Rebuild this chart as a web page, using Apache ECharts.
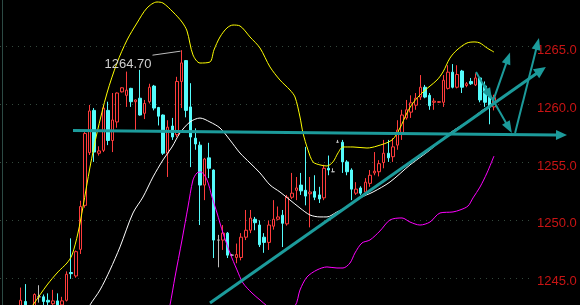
<!DOCTYPE html>
<html>
<head>
<meta charset="utf-8">
<script src="https://cdn.jsdelivr.net/npm/echarts@6/dist/echarts.min.js"></script>
<style>
  html, body { margin: 0; padding: 0; background: #000; }
  #chart { width: 580px; height: 305px; }
</style>
</head>
<body>
<div id="chart"></div>
<script>
// slot layout: 4 empty slots before the first candle, some room on the right
const SLOTS = 116;
const LEAD = 4;

const candleOpen = [
  1242.5, 1243.0, 1242.4, 1242.6, 1243.4, 1243.4, 1243.1, 1242.8, 1243.05, 1242.7,
  1243.1, 1245.5, 1245.2, 1247.5, 1251.3, 1255.85, 1259.5, 1255.8, 1256.05, 1259.5,
  1256.9, 1258.5, 1261.1, 1260.8, 1261.4, 1260.25, 1260.55, 1259.25, 1260.25, 1261.6,
  1259.75, 1259.1, 1255.8, 1258.15, 1257.4, 1262.0, 1263.8, 1259.8, 1257.1, 1256.5,
  1253.05, 1255.4, 1254.35, 1248.3, 1248.3, 1248.9, 1247.0, 1246.8, 1246.8, 1248.55,
  1249.15, 1250.1, 1249.6, 1248.55, 1248.1, 1249.5, 1250.1, 1250.45, 1249.7, 1252.0,
  1252.6, 1253.05, 1252.6, 1252.3, 1252.5, 1252.2, 1251.95, 1254.5, 1254.2, 1256.75,
  1256.75, 1255.05, 1254.35, 1252.35, 1252.8, 1252.45, 1253.2, 1254.1, 1254.2, 1255.0,
  1255.8, 1255.5, 1256.5, 1257.6, 1258.85, 1259.35, 1259.95, 1260.65, 1261.5, 1260.8,
  1260.2, 1260.2, 1260.2, 1261.4, 1262.8, 1261.5, 1262.9, 1261.65, 1262.0, 1261.7,
  1262.3, 1261.6, 1260.7, 1259.8
];
const candleClose = [
  1243.1, 1242.5, 1242.2, 1243.6, 1243.4, 1243.0, 1242.95, 1243.05, 1242.7, 1243.05,
  1245.35, 1245.4, 1247.3, 1251.2, 1257.5, 1259.45, 1255.9, 1256.0, 1259.7, 1256.9,
  1258.67, 1261.0, 1261.45, 1261.25, 1260.25, 1260.4, 1259.1, 1260.1, 1261.5, 1259.7,
  1259.0, 1255.8, 1258.05, 1257.2, 1262.0, 1263.6, 1259.5, 1257.2, 1256.6, 1253.05,
  1255.3, 1254.5, 1248.3, 1248.3, 1248.9, 1247.0, 1247.0, 1247.05, 1248.55, 1249.15,
  1250.2, 1249.8, 1247.9, 1248.1, 1249.6, 1250.1, 1250.3, 1249.75, 1252.0, 1252.35,
  1252.8, 1252.55, 1252.1, 1252.45, 1252.0, 1251.85, 1254.5, 1254.35, 1254.2, 1256.75,
  1255.05, 1254.2, 1252.7, 1252.7, 1252.35, 1253.3, 1253.9, 1254.25, 1254.9, 1255.8,
  1255.4, 1256.35, 1257.8, 1259.1, 1259.55, 1260.15, 1260.55, 1261.5, 1260.65, 1259.9,
  1260.3, 1260.25, 1262.1, 1262.8, 1261.5, 1262.6, 1261.5, 1261.8, 1261.8, 1262.3,
  1260.4, 1260.2, 1259.8, 1260.6
];
const candleLow = [
  1242.3, 1242.3, 1241.9, 1242.4, 1242.9, 1242.6, 1242.6, 1242.6, 1242.5, 1242.5,
  1243.0, 1244.95, 1245.05, 1247.1, 1251.1, 1255.65, 1255.05, 1255.6, 1255.9, 1256.5,
  1255.9, 1258.0, 1261.05, 1259.8, 1259.8, 1257.8, 1259.05, 1258.75, 1260.1, 1259.5,
  1258.2, 1255.65, 1253.75, 1256.95, 1257.2, 1259.7, 1258.9, 1254.6, 1256.1, 1249.6,
  1251.75, 1253.65, 1246.75, 1245.95, 1247.45, 1246.75, 1246.9, 1246.3, 1246.55, 1248.3,
  1248.9, 1249.15, 1247.7, 1247.2, 1247.45, 1249.2, 1250.0, 1247.7, 1249.55, 1251.85,
  1251.75, 1252.2, 1251.3, 1249.4, 1251.75, 1251.5, 1251.75, 1253.9, 1254.2, 1256.75,
  1254.1, 1253.9, 1251.75, 1252.2, 1252.2, 1252.25, 1252.9, 1253.9, 1253.8, 1254.5,
  1255.05, 1255.05, 1256.1, 1256.95, 1258.7, 1258.85, 1259.55, 1260.4, 1260.55, 1259.55,
  1259.55, 1260.15, 1259.8, 1261.3, 1261.4, 1261.4, 1261.0, 1261.5, 1261.7, 1261.6,
  1260.2, 1259.8, 1258.3, 1259.5
];
const candleHigh = [
  1244.2, 1244.5, 1242.6, 1243.7, 1244.4, 1243.6, 1243.7, 1244.0, 1243.7, 1243.4,
  1245.6, 1248.45, 1247.4, 1251.7, 1257.7, 1259.97, 1259.7, 1256.4, 1259.97, 1260.25,
  1261.0, 1261.05, 1261.5, 1262.85, 1261.45, 1260.45, 1263.0, 1260.4, 1261.8, 1261.7,
  1259.8, 1259.15, 1258.65, 1258.85, 1262.4, 1264.7, 1263.85, 1261.85, 1257.95, 1256.8,
  1255.4, 1256.7, 1254.4, 1248.75, 1249.6, 1249.0, 1247.1, 1248.0, 1248.9, 1250.9,
  1250.9, 1250.3, 1250.0, 1248.9, 1250.0, 1251.75, 1251.2, 1250.9, 1252.2, 1254.1,
  1253.75, 1254.1, 1256.35, 1253.75, 1253.9, 1252.9, 1254.8, 1255.6, 1254.5, 1256.95,
  1256.95, 1255.2, 1254.5, 1253.3, 1252.95, 1253.65, 1254.35, 1255.9, 1255.2, 1256.95,
  1256.95, 1257.1, 1258.65, 1259.55, 1260.4, 1260.8, 1261.0, 1262.55, 1261.7, 1261.0,
  1260.55, 1260.3, 1262.55, 1263.4, 1263.5, 1263.4, 1263.0, 1261.95, 1262.3, 1262.7,
  1262.35, 1262.0, 1261.0, 1260.85
];

// band lines: [slot, price]
const upperBand = [
  [5.6, 1242.1], [6.68, 1242.7], [9.73, 1244.42], [12.12, 1245.55], [14.08, 1246.32], [15.17, 1247.01],
  [16.47, 1248.91], [17.56, 1251.16], [19.09, 1254.61], [20.61, 1257.55], [22.79, 1261.0],
  [24.96, 1263.59], [27.14, 1265.57], [29.32, 1267.05], [31.49, 1268.34], [33.67, 1268.86],
  [34.97, 1268.77], [37.15, 1268.0], [39.11, 1267.13], [40.2, 1266.36], [41.5, 1264.29],
  [43.03, 1263.59], [45.2, 1263.68], [46.07, 1264.72], [47.38, 1265.84], [48.9, 1266.62],
  [50.21, 1266.87], [51.73, 1266.79], [53.91, 1265.84], [56.08, 1264.89], [58.26, 1263.25],
  [60.44, 1262.12], [62.61, 1261.26], [63.7, 1260.66], [64.79, 1258.93], [65.44, 1257.55],
  [66.53, 1256.08], [67.62, 1255.05], [69.14, 1254.79], [70.66, 1254.7], [71.97, 1255.05],
  [73.06, 1255.82], [74.15, 1256.34], [76.32, 1256.34], [79.37, 1256.25], [81.55, 1256.42],
  [84.81, 1256.94], [86.55, 1257.98], [88.07, 1259.28], [89.38, 1260.14], [91.56, 1261.09],
  [94.6, 1262.12], [95.91, 1262.82], [97.43, 1264.02], [98.96, 1264.72], [101.13, 1265.32],
  [102.87, 1265.41], [103.96, 1265.32], [105.49, 1264.89], [107.01, 1264.54]
];
const middleBand = [
  [18.3, 1242.0], [19.09, 1242.7], [21.26, 1243.99], [23.44, 1245.72], [25.62, 1247.71], [28.44, 1250.64],
  [30.62, 1252.02], [32.8, 1253.75], [34.97, 1255.22], [36.93, 1256.34], [38.67, 1257.55],
  [40.85, 1258.5], [43.03, 1258.84], [45.2, 1258.5], [47.38, 1257.98], [49.55, 1256.94],
  [51.73, 1255.82], [53.91, 1254.96], [56.08, 1254.1], [58.26, 1253.06], [60.44, 1252.45],
  [62.61, 1251.76], [64.79, 1251.07], [66.96, 1250.47], [69.14, 1250.3], [70.66, 1250.3],
  [72.84, 1250.73], [75.02, 1251.16], [77.85, 1251.94], [80.68, 1252.45], [84.38, 1253.32],
  [88.73, 1254.79], [93.08, 1256.08], [97.43, 1257.55], [101.79, 1258.67], [104.61, 1259.54],
  [107.01, 1260.05]
];
const lowerBand = [
  [36.0, 1242.0], [36.5, 1242.7], [37.59, 1245.12], [39.11, 1248.31], [40.41, 1251.16], [41.5, 1253.49],
  [42.37, 1254.1], [43.24, 1254.18], [44.55, 1253.49], [45.64, 1252.02], [46.73, 1250.64],
  [48.03, 1248.91], [49.55, 1247.19], [51.08, 1245.72], [52.38, 1244.6], [54.34, 1243.73],
  [56.08, 1243.13], [57.61, 1242.61], [60.44, 1241.8], [63.7, 1242.61], [64.79, 1243.99],
  [66.31, 1245.11], [68.49, 1245.72], [70.66, 1245.98], [72.84, 1245.89], [74.15, 1245.89],
  [75.67, 1246.32], [76.76, 1247.19], [78.28, 1248.05], [80.02, 1248.31], [82.2, 1249.09],
  [84.38, 1250.04], [86.99, 1250.21], [88.73, 1249.86], [90.9, 1249.6], [93.08, 1249.86],
  [95.26, 1250.64], [98.09, 1250.73], [99.61, 1250.9], [101.35, 1251.24], [102.44, 1251.94],
  [103.96, 1252.88], [105.49, 1254.1], [107.01, 1255.56]
];

// hand-drawn annotations: [slot, price] endpoints, arrow at the second point
const levelLine = [[15.39, 1257.76], [122.9, 1257.37]];
const trendLine = [[45.2, 1242.87], [118.3, 1263.25]];
const moveArrows = [
  [[103.1, 1262.82], [106.6, 1260.4]],
  [[106.8, 1260.3], [110.5, 1264.5]],
  [[104.8, 1261.77], [110.9, 1257.55]],
  [[111.6, 1257.55], [116.8, 1265.75]]
];

const yTicks = { min: 1240, max: 1270, step: 5 };

const slotNames = [];
for (let i = 0; i < SLOTS; i++) slotNames.push(String(i));

const candleData = candleOpen.map((o, j) => [j + LEAD, o, candleClose[j], candleLow[j], candleHigh[j]]);

const teal = "#1c9b9b";

const chart = echarts.init(document.getElementById("chart"));

const option = {
  animation: false,
  backgroundColor: "#000",
  grid: {
    left: 0, right: 47, top: -11.2, bottom: -31.2,
    containLabel: false,
    outerBoundsMode: "none"
  },
  xAxis: [
    { type: "category", data: slotNames, show: false, boundaryGap: true },
    { type: "value", min: -0.5, max: SLOTS - 0.5, show: false }
  ],
  yAxis: {
    type: "value",
    position: "right",
    min: yTicks.min,
    max: yTicks.max,
    interval: yTicks.step,
    axisLine: { show: true, lineStyle: { color: "#2c4a44", width: 1 } },
    axisTick: { show: false },
    axisLabel: {
      color: "#c81414",
      fontSize: 13,
      fontFamily: "Liberation Sans",
      margin: 4,
      verticalAlign: "top",
      lineHeight: 7,
      formatter: (v) => v.toFixed(1)
    },
    splitLine: { lineStyle: { color: "#34483c", type: [1, 5] } }
  },
  series: [
    {
      type: "candlestick",
      xAxisIndex: 0,
      yAxisIndex: 0,
      data: candleData,
      encode: { x: 0, y: [1, 2, 3, 4] },
      barWidth: 3,
      clip: true,
      itemStyle: {
        color: "#000",
        color0: "#54fcfc",
        borderColor: "#ff3c3c",
        borderColor0: "#54fcfc",
        borderColorDoji: "#bdbdbd",
        borderWidth: 1
      }
    },
    {
      type: "line", xAxisIndex: 1, data: upperBand, showSymbol: false, smooth: 0.3,
      lineStyle: { color: "#ffff00", width: 1 }, clip: true
    },
    {
      type: "line", xAxisIndex: 1, data: middleBand, showSymbol: false, smooth: 0.3,
      lineStyle: { color: "#ffffff", width: 1 }, clip: true
    },
    {
      type: "line", xAxisIndex: 1, data: lowerBand, showSymbol: false, smooth: 0.3,
      lineStyle: { color: "#ff00ff", width: 1 }, clip: true
    }
  ]
};

chart.setOption(option);

const toPx = (p) => chart.convertToPixel({ xAxisIndex: 1, yAxisIndex: 0 }, p);

function arrow(from, to, width, headLen, headHalf) {
  const a = toPx(from);
  const b = toPx(to);
  const dx = b[0] - a[0];
  const dy = b[1] - a[1];
  const len = Math.sqrt(dx * dx + dy * dy);
  const ux = dx / len, uy = dy / len;
  const bx = b[0] - ux * headLen, by = b[1] - uy * headLen;
  return [
    {
      type: "line", z: 100,
      shape: { x1: a[0], y1: a[1], x2: bx + ux, y2: by + uy },
      style: { stroke: teal, lineWidth: width }
    },
    {
      type: "polygon", z: 100,
      shape: {
        points: [
          [b[0], b[1]],
          [bx - uy * headHalf, by + ux * headHalf],
          [bx + uy * headHalf, by - ux * headHalf]
        ]
      },
      style: { fill: teal }
    }
  ];
}

const graphics = [];
graphics.push(...arrow(levelLine[0], levelLine[1], 3, 11, 5));
graphics.push(...arrow(trendLine[0], trendLine[1], 3, 12, 5.5));
moveArrows.forEach((m) => graphics.push(...arrow(m[0], m[1], 2, 12, 4.5)));

// highest price label with leader line
let jMax = 0;
candleHigh.forEach((h, j) => { if (h > candleHigh[jMax]) jMax = j; });
const hp = toPx([jMax + LEAD, candleHigh[jMax]]);
graphics.push({
  type: "line", z: 90,
  shape: { x1: hp[0] - 29, y1: hp[1] + 5, x2: hp[0] - 1, y2: hp[1] + 1 },
  style: { stroke: "#bdbdbd", lineWidth: 1 }
});
graphics.push({
  type: "text", z: 90,
  x: hp[0] - 30,
  y: hp[1] + 14,
  style: {
    text: candleHigh[jMax].toFixed(2),
    fill: "#cfcfcf",
    font: "13px 'Liberation Sans'",
    align: "right",
    verticalAlign: "middle",
    textAlign: "right",
    textVerticalAlign: "middle"
  }
});

chart.setOption({ graphic: graphics });
</script>
</body>
</html>
